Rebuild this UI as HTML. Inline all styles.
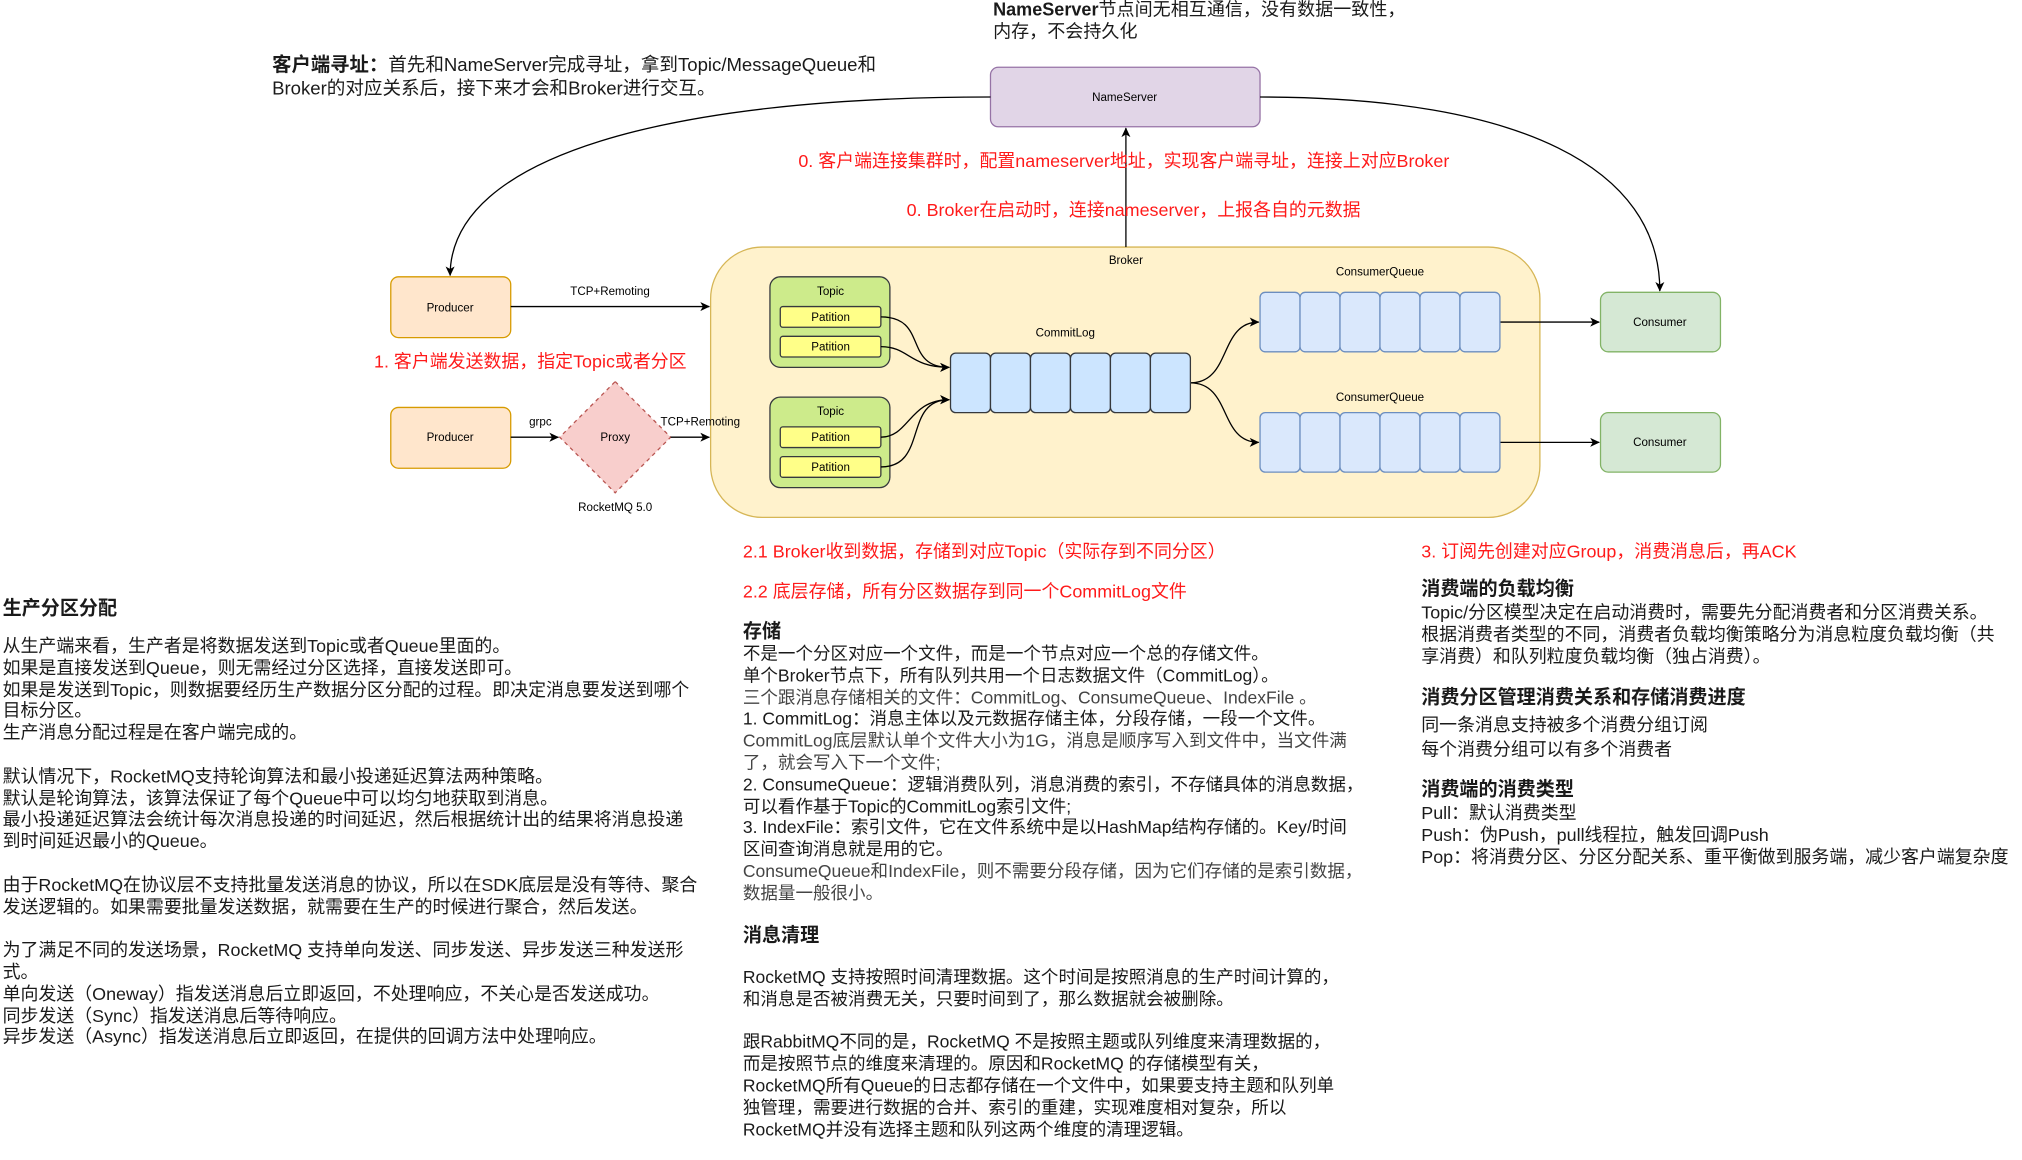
<!DOCTYPE html>
<html><head><meta charset="utf-8">
<style>
html,body{margin:0;padding:0;background:#fff;width:2022px;height:1160px;overflow:hidden}
#w{position:absolute;left:0;top:0;width:1560px;height:895px;transform:scale(1.2897,1.2935);transform-origin:0 0;font-family:"Liberation Sans","Noto Sans CJK SC",sans-serif;color:#1a1a1a}
.t{position:absolute;white-space:nowrap;font-size:13.9px;line-height:16.8px}
.h{font-weight:bold;font-size:14.8px}
.r{color:#ff1a1a;font-size:13.9px}
svg{position:absolute;left:0;top:0}
</style></head><body><div id="w">
<svg width="1560" height="895" viewBox="0 0 1560 895" font-family="Liberation Sans, Noto Sans CJK SC, sans-serif">
<defs><marker id="a" markerWidth="8" markerHeight="8" refX="7" refY="4" orient="auto" markerUnits="userSpaceOnUse"><path d="M0,0.5 L7.5,4 L0,7.5 L2,4 z" fill="#000"/></marker></defs>
<rect x="551" y="191" width="643" height="209" rx="40" fill="#fff2cc" stroke="#d6b656"/>
<text x="873" y="204" font-size="9" text-anchor="middle">Broker</text>
<rect x="768" y="52" width="209" height="46" rx="6" fill="#e1d5e7" stroke="#9673a6"/>
<text x="872" y="78" font-size="9" text-anchor="middle">NameServer</text>
<path d="M768,75 C520,75 349,120 349,213" fill="none" stroke="#000" stroke-width="1" marker-end="url(#a)"/>
<path d="M977,75 C1180,75 1287,130 1287,225" fill="none" stroke="#000" stroke-width="1" marker-end="url(#a)"/>
<line x1="873" y1="191" x2="873" y2="99" stroke="#000" marker-end="url(#a)"/>
<rect x="303" y="214" width="93" height="47" rx="6" fill="#ffe6cc" stroke="#d79b00"/>
<text x="349" y="241" font-size="9" text-anchor="middle">Producer</text>
<rect x="303" y="315" width="93" height="47" rx="6" fill="#ffe6cc" stroke="#d79b00"/>
<text x="349" y="341" font-size="9" text-anchor="middle">Producer</text>
<line x1="396" y1="237" x2="550" y2="237" stroke="#000" marker-end="url(#a)"/>
<text x="473" y="228" font-size="9" text-anchor="middle">TCP+Remoting</text>
<line x1="396" y1="338" x2="433" y2="338" stroke="#000" marker-end="url(#a)"/>
<text x="419" y="329" font-size="9" text-anchor="middle">grpc</text>
<path d="M477,295 L520,338 L477,381 L434,338 z" fill="#f8cecc" stroke="#b85450" stroke-dasharray="3,3"/>
<text x="477" y="341" font-size="9" text-anchor="middle">Proxy</text>
<text x="477" y="395" font-size="9" text-anchor="middle">RocketMQ 5.0</text>
<line x1="520" y1="338" x2="550" y2="338" stroke="#000" marker-end="url(#a)"/>
<text x="543" y="329" font-size="9" text-anchor="middle">TCP+Remoting</text>
<rect x="597" y="214" width="93" height="70" rx="8" fill="#cdeb8b" stroke="#36393d"/>
<text x="644" y="228" font-size="9" text-anchor="middle">Topic</text>
<rect x="605" y="237" width="78" height="16" rx="2" fill="#ffff88" stroke="#36393d"/>
<text x="644" y="248" font-size="9" text-anchor="middle">Patition</text>
<rect x="605" y="260" width="78" height="16" rx="2" fill="#ffff88" stroke="#36393d"/>
<text x="644" y="271" font-size="9" text-anchor="middle">Patition</text>
<rect x="597" y="307" width="93" height="70" rx="8" fill="#cdeb8b" stroke="#36393d"/>
<text x="644" y="321" font-size="9" text-anchor="middle">Topic</text>
<rect x="605" y="330" width="78" height="16" rx="2" fill="#ffff88" stroke="#36393d"/>
<text x="644" y="341" font-size="9" text-anchor="middle">Patition</text>
<rect x="605" y="353" width="78" height="16" rx="2" fill="#ffff88" stroke="#36393d"/>
<text x="644" y="364" font-size="9" text-anchor="middle">Patition</text>
<g fill="none" stroke="#000">
<path d="M683,245 C720,245 700,284 736,284" marker-end="url(#a)"/>
<path d="M683,268 C705,268 705,284 736,284" marker-end="url(#a)"/>
<path d="M683,338 C705,338 705,309 736,309" marker-end="url(#a)"/>
<path d="M683,361 C720,361 700,309 736,309" marker-end="url(#a)"/>
<path d="M923,296 C955,296 945,249 976,249" marker-end="url(#a)"/>
<path d="M923,296 C955,296 945,342 976,342" marker-end="url(#a)"/>
<line x1="1163" y1="249" x2="1240" y2="249" marker-end="url(#a)"/>
<line x1="1163" y1="342" x2="1240" y2="342" marker-end="url(#a)"/>
</g>
<text x="826" y="260" font-size="9" text-anchor="middle">CommitLog</text>
<g fill="#cce5ff" stroke="#36393d">
<rect x="737" y="273" width="31" height="46" rx="4"/><rect x="768" y="273" width="31" height="46" rx="4"/><rect x="799" y="273" width="31" height="46" rx="4"/><rect x="830" y="273" width="31" height="46" rx="4"/><rect x="861" y="273" width="31" height="46" rx="4"/><rect x="892" y="273" width="31" height="46" rx="4"/>
</g>
<text x="1070" y="213" font-size="9" text-anchor="middle">ConsumerQueue</text>
<text x="1070" y="310" font-size="9" text-anchor="middle">ConsumerQueue</text>
<g fill="#dae8fc" stroke="#6c8ebf">
<rect x="977" y="226" width="31" height="46" rx="4"/><rect x="1008" y="226" width="31" height="46" rx="4"/><rect x="1039" y="226" width="31" height="46" rx="4"/><rect x="1070" y="226" width="31" height="46" rx="4"/><rect x="1101" y="226" width="31" height="46" rx="4"/><rect x="1132" y="226" width="31" height="46" rx="4"/>
<rect x="977" y="319" width="31" height="46" rx="4"/><rect x="1008" y="319" width="31" height="46" rx="4"/><rect x="1039" y="319" width="31" height="46" rx="4"/><rect x="1070" y="319" width="31" height="46" rx="4"/><rect x="1101" y="319" width="31" height="46" rx="4"/><rect x="1132" y="319" width="31" height="46" rx="4"/>
</g>
<rect x="1241" y="226" width="93" height="46" rx="6" fill="#d5e8d4" stroke="#82b366"/>
<text x="1287" y="252" font-size="9" text-anchor="middle">Consumer</text>
<rect x="1241" y="319" width="93" height="46" rx="6" fill="#d5e8d4" stroke="#82b366"/>
<text x="1287" y="345" font-size="9" text-anchor="middle">Consumer</text>
</svg>

<div class="t" style="left:770px;top:-1px;font-size:14px"><b>NameServer</b>节点间无相互通信，没有数据一致性，<br>内存，不会持久化</div>
<div class="t" style="left:211px;top:42px;font-size:14.4px;line-height:18px"><b style="font-size:15px">客户端寻址：</b>首先和NameServer完成寻址，拿到Topic/MessageQueue和<br>Broker的对应关系后，接下来才会和Broker进行交互。</div>
<div class="t r" style="left:619px;top:116px">0. 客户端连接集群时，配置nameserver地址，实现客户端寻址，连接上对应Broker</div>
<div class="t r" style="left:703px;top:154px">0. Broker在启动时，连接nameserver，上报各自的元数据</div>
<div class="t r" style="left:290px;top:271px">1. 客户端发送数据，指定Topic或者分区</div>
<div class="t r" style="left:576px;top:418px">2.1 Broker收到数据，存储到对应Topic（实际存到不同分区）</div>
<div class="t r" style="left:576px;top:449px">2.2 底层存储，所有分区数据存到同一个CommitLog文件</div>
<div class="t r" style="left:1102px;top:418px">3. 订阅先创建对应Group，消费消息后，再ACK</div>

<div class="t h" style="left:2px;top:463px">生产分区分配</div>
<div class="t" style="left:2px;top:491px">从生产端来看，生产者是将数据发送到Topic或者Queue里面的。<br>如果是直接发送到Queue，则无需经过分区选择，直接发送即可。<br>如果是发送到Topic，则数据要经历生产数据分区分配的过程。即决定消息要发送到哪个<br>目标分区。<br>生产消息分配过程是在客户端完成的。<br><br>默认情况下，RocketMQ支持轮询算法和最小投递延迟算法两种策略。<br>默认是轮询算法，该算法保证了每个Queue中可以均匀地获取到消息。<br>最小投递延迟算法会统计每次消息投递的时间延迟，然后根据统计出的结果将消息投递<br>到时间延迟最小的Queue。<br><br>由于RocketMQ在协议层不支持批量发送消息的协议，所以在SDK底层是没有等待、聚合<br>发送逻辑的。如果需要批量发送数据，就需要在生产的时候进行聚合，然后发送。<br><br>为了满足不同的发送场景，RocketMQ 支持单向发送、同步发送、异步发送三种发送形<br>式。<br>单向发送（Oneway）指发送消息后立即返回，不处理响应，不关心是否发送成功。<br>同步发送（Sync）指发送消息后等待响应。<br>异步发送（Async）指发送消息后立即返回，在提供的回调方法中处理响应。</div>

<div class="t h" style="left:576px;top:481px">存储</div>
<div class="t" style="left:576px;top:498px;font-size:13.6px">不是一个分区对应一个文件，而是一个节点对应一个总的存储文件。<br>单个Broker节点下，所有队列共用一个日志数据文件（CommitLog）。<br><span style="color:#444">三个跟消息存储相关的文件：CommitLog、ConsumeQueue、IndexFile 。</span><br>1. CommitLog：消息主体以及元数据存储主体，分段存储，一段一个文件。<br><span style="color:#444">CommitLog底层默认单个文件大小为1G，消息是顺序写入到文件中，当文件满<br>了，就会写入下一个文件;</span><br>2. ConsumeQueue：逻辑消费队列，消息消费的索引，不存储具体的消息数据，<br>可以看作基于Topic的CommitLog索引文件;<br>3. IndexFile：索引文件，它在文件系统中是以HashMap结构存储的。Key/时间<br>区间查询消息就是用的它。<br><span style="color:#444">ConsumeQueue和IndexFile，则不需要分段存储，因为它们存储的是索引数据，<br>数据量一般很小。</span></div>
<div class="t h" style="left:576px;top:716px">消息清理</div>
<div class="t" style="left:576px;top:748px;font-size:13.6px">RocketMQ 支持按照时间清理数据。这个时间是按照消息的生产时间计算的，<br>和消息是否被消费无关，只要时间到了，那么数据就会被删除。<br><br>跟RabbitMQ不同的是，RocketMQ 不是按照主题或队列维度来清理数据的，<br>而是按照节点的维度来清理的。原因和RocketMQ 的存储模型有关，<br>RocketMQ所有Queue的日志都存储在一个文件中，如果要支持主题和队列单<br>独管理，需要进行数据的合并、索引的重建，实现难度相对复杂，所以<br>RocketMQ并没有选择主题和队列这两个维度的清理逻辑。</div>

<div class="t h" style="left:1102px;top:448px">消费端的负载均衡</div>
<div class="t" style="left:1102px;top:465px">Topic/分区模型决定在启动消费时，需要先分配消费者和分区消费关系。<br>根据消费者类型的不同，消费者负载均衡策略分为消息粒度负载均衡（共<br>享消费）和队列粒度负载均衡（独占消费）。</div>
<div class="t h" style="left:1102px;top:532px">消费分区管理消费关系和存储消费进度</div>
<div class="t" style="left:1102px;top:551px;line-height:19px">同一条消息支持被多个消费分组订阅<br>每个消费分组可以有多个消费者</div>
<div class="t h" style="left:1102px;top:603px">消费端的消费类型</div>
<div class="t" style="left:1102px;top:620px">Pull：默认消费类型<br>Push：伪Push，pull线程拉，触发回调Push<br>Pop：将消费分区、分区分配关系、重平衡做到服务端，减少客户端复杂度</div>
</div></body></html>
